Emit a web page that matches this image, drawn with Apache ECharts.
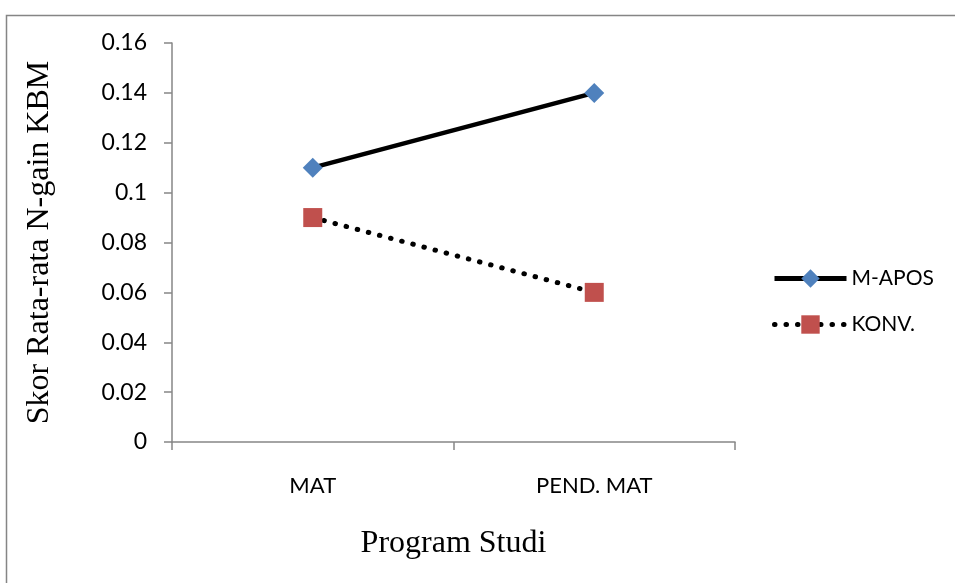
<!DOCTYPE html>
<html><head><meta charset="utf-8">
<script src="https://cdn.jsdelivr.net/npm/echarts@6/dist/echarts.min.js"></script>
<style>html,body{margin:0;padding:0;background:#fff}#c{width:955px;height:583px}</style>
</head><body><div id="c"></div>
<script>
const categories = ['MAT', 'PEND. MAT'];
const mApos = [0.11, 0.14];
const konv = [0.09, 0.06];
const yTicks = { min: 0, max: 0.16, interval: 0.02 };

const chart = echarts.init(document.getElementById('c'), null, { renderer: 'canvas' });
const axisGray = '#868686';
const sans = 'Lato, "Open Sans", sans-serif';
const serif = '"Liberation Serif", "Times New Roman", serif';
chart.setOption({
  animation: false,
  backgroundColor: '#fff',
  graphic: [{
    type: 'rect', left: 4, top: 13,
    shape: { width: 1000, height: 700 },
    style: { fill: 'none', stroke: '#858585', lineWidth: 1.5 }
  }],
  grid: { left: 172, right: 220, top: 43, bottom: 141 },
  legend: {
    orient: 'vertical', left: 767, top: 263, itemGap: 25,
    itemWidth: 72, itemHeight: 23,
    textStyle: { fontFamily: sans, fontSize: 21, color: '#000', padding: [0, 0, 0, 0] },
    data: [
      { name: 'M-APOS', lineStyle: { width: 5 } },
      { name: 'KONV.', lineStyle: { width: 5, type: [0.5, 11], cap: 'round' } }
    ]
  },
  xAxis: {
    type: 'category', data: categories, boundaryGap: true,
    name: 'Program Studi', nameLocation: 'middle', nameGap: 86,
    nameTextStyle: { fontFamily: serif, fontSize: 32, color: '#000' },
    axisLine: { lineStyle: { color: axisGray, width: 1.5 } },
    axisTick: { show: true, length: 8, lineStyle: { color: axisGray, width: 1.5 } },
    axisLabel: { fontFamily: sans, fontSize: 22, color: '#000', margin: 33 },
    splitLine: { show: false }
  },
  yAxis: {
    type: 'value', min: yTicks.min, max: yTicks.max, interval: yTicks.interval,
    name: 'Skor Rata-rata N-gain KBM', nameLocation: 'middle', nameGap: 116,
    nameTextStyle: { fontFamily: serif, fontSize: 32, color: '#000' },
    axisLine: { show: true, lineStyle: { color: axisGray, width: 1.5 } },
    axisTick: { show: true, length: 8, lineStyle: { color: axisGray, width: 1.5 } },
    axisLabel: { fontFamily: sans, fontSize: 23, color: '#000', margin: 25,
      formatter: v => String(parseFloat(v.toFixed(2))) },
    splitLine: { show: false }
  },
  series: [
    {
      name: 'M-APOS', type: 'line', data: mApos,
      symbol: 'diamond', symbolSize: 20,
      itemStyle: { color: '#4F81BD' },
      lineStyle: { color: '#000', width: 4.5 }
    },
    {
      name: 'KONV.', type: 'line', data: konv,
      symbol: 'rect', symbolSize: 19,
      itemStyle: { color: '#C0504D' },
      lineStyle: { color: '#000', width: 5, type: [0.5, 11], cap: 'round' }
    }
  ]
});
</script></body></html>
